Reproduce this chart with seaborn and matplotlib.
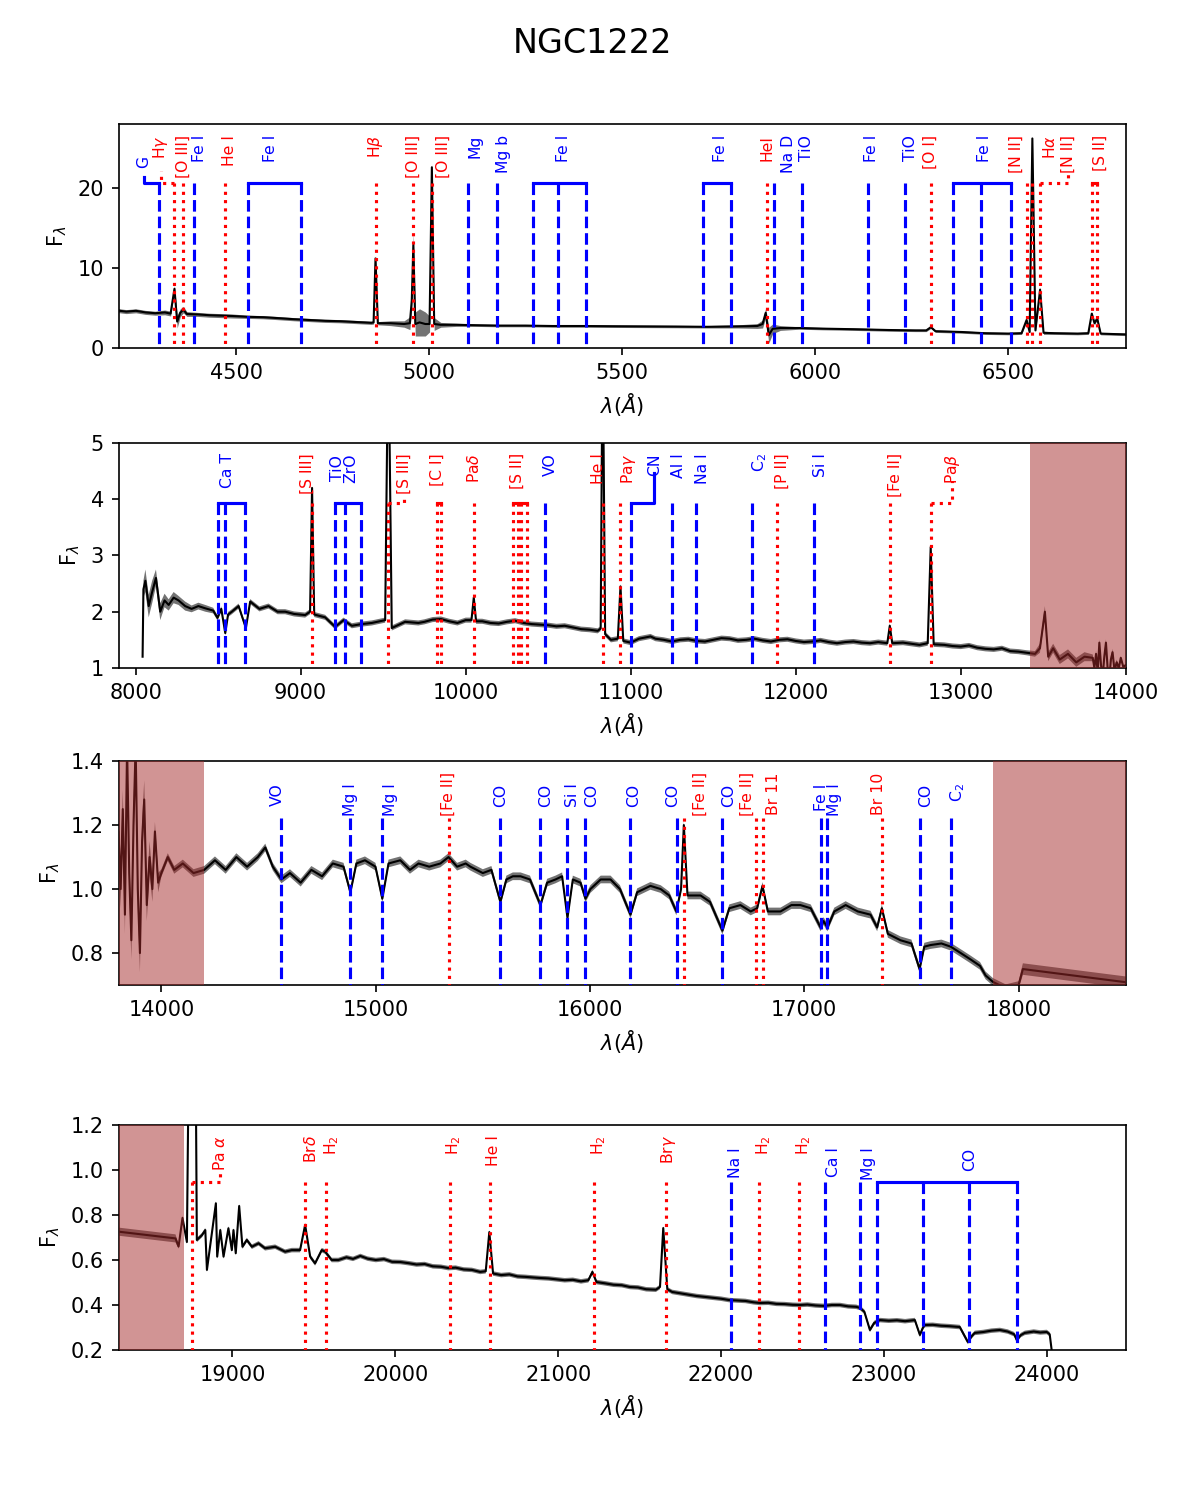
import numpy as np
import pandas as pd
import seaborn as sns
import matplotlib.pyplot as plt

# ---- optical spectrum (top panel): wavelength, flux, error ----
opt_wave = [4190, 4215, 4240, 4265, 4290, 4315, 4330, 4340, 4347, 4355, 4363, 4372,
            4400, 4430, 4460, 4490, 4530, 4570, 4604, 4650, 4690, 4730, 4770, 4810,
            4850, 4856, 4861, 4867, 4900, 4935, 4950, 4955, 4959, 4964, 4975, 4990,
            5001, 5007, 5013, 5030, 5070, 5120, 5180, 5250, 5320, 5400, 5480, 5560,
            5640, 5720, 5800, 5850, 5864, 5872, 5880, 5890, 5910, 5960, 6020, 6100,
            6190, 6260, 6288, 6300, 6312, 6380, 6440, 6500, 6535, 6548, 6556, 6563,
            6571, 6583, 6592, 6620, 6680, 6708, 6717, 6724, 6731, 6740, 6770, 6805]
opt_flux = [4.70, 4.55, 4.65, 4.45, 4.35, 4.45, 4.30, 7.40, 3.30, 4.40, 4.80, 4.25,
            4.20, 4.10, 4.05, 4.00, 3.90, 3.85, 3.75, 3.60, 3.50, 3.40, 3.35, 3.25,
            3.15, 3.20, 11.2, 3.10, 3.10, 3.00, 3.10, 6.00, 12.9, 3.00, 3.20, 3.00,
            3.00, 22.6, 3.00, 2.90, 2.90, 2.85, 2.80, 2.80, 2.75, 2.75, 2.72, 2.70,
            2.68, 2.65, 2.70, 2.75, 3.00, 4.40, 1.60, 2.40, 2.50, 2.50, 2.42, 2.35,
            2.25, 2.20, 2.20, 2.60, 2.10, 2.00, 1.85, 1.80, 1.85, 3.50, 2.00, 26.2,
            2.20, 7.30, 1.90, 1.85, 1.80, 1.85, 4.30, 3.10, 3.70, 1.80, 1.75, 1.70]
opt_err = [0.25, 0.25, 0.25, 0.25, 0.25, 0.3, 0.3, 0.4, 0.8, 0.5, 0.4, 0.3,
           0.25, 0.25, 0.25, 0.25, 0.2, 0.2, 0.2, 0.2, 0.2, 0.2, 0.2, 0.2,
           0.2, 0.2, 0.3, 0.2, 0.3, 0.4, 0.8, 1.0, 1.6, 1.5, 1.7, 1.5,
           1.0, 0.5, 0.8, 0.3, 0.2, 0.15, 0.15, 0.15, 0.15, 0.15, 0.15, 0.15,
           0.15, 0.15, 0.2, 0.3, 0.5, 0.6, 1.0, 0.6, 0.3, 0.15, 0.15, 0.15,
           0.15, 0.15, 0.15, 0.15, 0.15, 0.15, 0.15, 0.15, 0.15, 0.2, 0.2, 0.3,
           0.2, 0.3, 0.2, 0.15, 0.15, 0.15, 0.2, 0.2, 0.2, 0.15, 0.15, 0.15]

# ---- near-IR spectrum, in pieces (panels 2-4) ----
# blue edge, noisy
nirA_wave = [8042, 8047, 8059, 8079, 8100, 8123, 8149, 8175, 8200, 8230, 8260, 8300,
             8339, 8380, 8422, 8470]
nirA_flux = [1.20, 2.40, 2.55, 2.10, 2.35, 2.60, 2.00, 2.20, 2.12, 2.25, 2.20, 2.10,
             2.05, 2.10, 2.06, 2.02]
nirA_err = [0.05, 0.15, 0.20, 0.20, 0.20, 0.15, 0.15, 0.12, 0.10, 0.10, 0.08, 0.08,
            0.06, 0.06, 0.06, 0.05]

# 8500 - 13400 A
nirB_wave = [8496, 8519, 8543, 8560, 8583, 8624, 8668, 8694, 8750, 8805, 8860, 8906,
             8960, 9027, 9057, 9069, 9082, 9148, 9209, 9260, 9310, 9370, 9431, 9512,
             9531, 9552, 9633, 9713, 9750, 9800, 9850, 9900, 9950, 10000, 10035, 10049,
             10063, 10100, 10150, 10200, 10250, 10300, 10350, 10400, 10450, 10500, 10550, 10600,
             10650, 10700, 10750, 10800, 10818, 10830, 10845, 10880, 10922, 10938, 10955, 11000,
             11050, 11120, 11150, 11200, 11250, 11300, 11350, 11400, 11450, 11500, 11550, 11600,
             11650, 11700, 11750, 11800, 11850, 11900, 11950, 12000, 12050, 12100, 12150, 12200,
             12250, 12300, 12350, 12400, 12450, 12500, 12555, 12570, 12585, 12650, 12700, 12750,
             12800, 12818, 12836, 12900, 12950, 13000, 13050, 13100, 13150, 13200, 13250, 13300,
             13350, 13400]
nirB_flux = [1.89, 2.05, 1.62, 1.95, 2.00, 2.10, 1.71, 2.18, 2.05, 2.10, 2.00, 2.00,
             1.96, 1.94, 2.00, 4.20, 1.95, 1.90, 1.73, 1.85, 1.75, 1.78, 1.80, 1.85,
             7.00, 1.71, 1.82, 1.80, 1.82, 1.86, 1.87, 1.83, 1.80, 1.85, 1.85, 2.25,
             1.83, 1.83, 1.80, 1.79, 1.82, 1.84, 1.80, 1.78, 1.77, 1.76, 1.74, 1.75,
             1.72, 1.69, 1.68, 1.66, 1.70, 7.00, 1.60, 1.50, 1.52, 2.45, 1.48, 1.45,
             1.52, 1.56, 1.52, 1.50, 1.47, 1.50, 1.51, 1.48, 1.47, 1.50, 1.53, 1.52,
             1.49, 1.50, 1.52, 1.49, 1.47, 1.50, 1.51, 1.48, 1.46, 1.47, 1.49, 1.46,
             1.44, 1.46, 1.47, 1.45, 1.44, 1.46, 1.44, 1.75, 1.44, 1.45, 1.43, 1.41,
             1.44, 3.15, 1.42, 1.41, 1.39, 1.38, 1.40, 1.36, 1.34, 1.33, 1.35, 1.30,
             1.29, 1.27]
nirB_err = 0.045

# telluric edge, noisy
nirC_wave = [13450, 13480, 13510, 13530, 13560, 13600, 13650, 13700, 13750, 13800, 13810, 13820,
             13830, 13840, 13850, 13860, 13870, 13880, 13890, 13900, 13910, 13920, 13932, 13945,
             13958, 13970, 13985]
nirC_flux = [1.25, 1.35, 2.00, 1.20, 1.35, 1.15, 1.25, 1.10, 1.20, 1.18, 1.00, 1.25,
             0.92, 1.45, 1.05, 0.84, 1.20, 1.45, 1.00, 0.80, 1.15, 1.28, 0.95, 1.10,
             1.00, 1.18, 1.02]
nirC_err = [0.05, 0.08, 0.10, 0.08, 0.08, 0.08, 0.08, 0.08, 0.08, 0.06, 0.06, 0.06,
            0.06, 0.06, 0.06, 0.06, 0.06, 0.06, 0.06, 0.06, 0.06, 0.06, 0.05, 0.05,
            0.04, 0.03, 0.03]

# H band
nirD_wave = [14000, 14030, 14060, 14100, 14150, 14200, 14250, 14300, 14350, 14400, 14450, 14485,
             14520, 14560, 14600, 14650, 14700, 14750, 14800, 14850, 14882, 14910, 14950, 14999,
             15031, 15060, 15115, 15160, 15200, 15250, 15302, 15340, 15380, 15420, 15442, 15500,
             15540, 15582, 15610, 15640, 15676, 15720, 15769, 15800, 15839, 15870, 15895, 15920,
             15956, 15979, 16002, 16050, 16096, 16140, 16189, 16220, 16282, 16330, 16370, 16403,
             16425, 16438, 16455, 16516, 16560, 16618, 16650, 16702, 16750, 16780, 16805, 16830,
             16889, 16940, 16982, 17030, 17076, 17090, 17108, 17140, 17193, 17250, 17309, 17340,
             17362, 17390, 17449, 17500, 17538, 17560, 17589, 17640, 17683, 17730, 17776, 17820,
             17846, 17880, 17940, 18000]
nirD_flux = [1.05, 1.10, 1.06, 1.08, 1.05, 1.06, 1.09, 1.06, 1.10, 1.07, 1.10, 1.13,
             1.07, 1.03, 1.05, 1.02, 1.06, 1.04, 1.08, 1.07, 0.99, 1.08, 1.09, 1.07,
             0.97, 1.08, 1.09, 1.06, 1.08, 1.07, 1.08, 1.10, 1.07, 1.08, 1.07, 1.05,
             1.06, 0.96, 1.03, 1.04, 1.04, 1.03, 0.95, 1.02, 1.03, 1.04, 0.91, 1.03,
             1.02, 0.97, 1.00, 1.03, 1.03, 1.00, 0.92, 0.99, 1.01, 1.00, 0.98, 0.93,
             1.00, 1.20, 0.98, 0.98, 0.96, 0.87, 0.94, 0.95, 0.93, 0.94, 1.01, 0.93,
             0.93, 0.95, 0.95, 0.94, 0.88, 0.90, 0.88, 0.93, 0.95, 0.93, 0.92, 0.88,
             0.94, 0.86, 0.84, 0.83, 0.75, 0.82, 0.825, 0.83, 0.82, 0.80, 0.78, 0.76,
             0.73, 0.71, 0.69, 0.70]
nirD_err = 0.012

# gap between H and K (straight line in the data)
nirE_wave = [18020, 18650]
nirE_flux = [0.750, 0.696]
nirE_err = 0.018

# K band
nirF_wave = [18669, 18693, 18720, 18745, 18765, 18781, 18812, 18833, 18843, 18873, 18898, 18906,
             18925, 18945, 18975, 18996, 19006, 19020, 19041, 19061, 19088, 19119, 19160, 19200,
             19262, 19323, 19364, 19415, 19446, 19477, 19507, 19548, 19569, 19609, 19650, 19700,
             19740, 19785, 19830, 19880, 19930, 19980, 20031, 20080, 20130, 20180, 20230, 20280,
             20325, 20370, 20420, 20470, 20521, 20555, 20577, 20600, 20650, 20700, 20750, 20800,
             20850, 20890, 20940, 20990, 21040, 21090, 21140, 21185, 21210, 21235, 21290, 21340,
             21390, 21440, 21490, 21540, 21600, 21625, 21645, 21670, 21700, 21750, 21800, 21850,
             21900, 21950, 22000, 22049, 22100, 22150, 22200, 22239, 22290, 22340, 22390, 22440,
             22485, 22530, 22580, 22630, 22680, 22730, 22780, 22830, 22853, 22880, 22914, 22940,
             22975, 23030, 23080, 23130, 23190, 23221, 23240, 23252, 23300, 23350, 23400, 23466,
             23515, 23540, 23558, 23610, 23660, 23712, 23760, 23800, 23816, 23840, 23865, 23920,
             23960, 24000, 24018, 24030]
nirF_flux = [0.660, 0.787, 0.680, 2.500, 2.500, 0.689, 0.710, 0.733, 0.556, 0.719, 0.852, 0.615,
             0.733, 0.615, 0.741, 0.644, 0.733, 0.630, 0.840, 0.659, 0.689, 0.659, 0.674, 0.652,
             0.659, 0.637, 0.644, 0.644, 0.756, 0.615, 0.585, 0.644, 0.637, 0.600, 0.600, 0.612,
             0.605, 0.618, 0.606, 0.600, 0.604, 0.592, 0.591, 0.586, 0.580, 0.582, 0.572, 0.570,
             0.564, 0.566, 0.558, 0.556, 0.547, 0.550, 0.724, 0.540, 0.533, 0.536, 0.527, 0.525,
             0.522, 0.520, 0.518, 0.514, 0.510, 0.512, 0.505, 0.510, 0.547, 0.502, 0.496, 0.490,
             0.488, 0.480, 0.478, 0.470, 0.468, 0.480, 0.742, 0.470, 0.458, 0.452, 0.446, 0.440,
             0.436, 0.432, 0.428, 0.422, 0.420, 0.418, 0.412, 0.409, 0.410, 0.405, 0.404, 0.401,
             0.400, 0.402, 0.398, 0.396, 0.400, 0.400, 0.394, 0.392, 0.387, 0.370, 0.289, 0.320,
             0.333, 0.330, 0.332, 0.328, 0.333, 0.267, 0.300, 0.311, 0.312, 0.308, 0.306, 0.302,
             0.236, 0.262, 0.276, 0.280, 0.286, 0.289, 0.282, 0.270, 0.244, 0.266, 0.276, 0.282,
             0.278, 0.280, 0.270, 0.200]
nirF_err = 0.01

# telluric regions (shaded)
mask_lo = [13420, 17880]
mask_hi = [14200, 18700]

# ---- line identifications: 'a' = absorption (blue), 'e' = emission (red) ----
p1_names = ["G", r"H$\gamma$", "[O III]", "Fe I", "He I", "Fe I", r"H$\beta$", "[O III]",
            "[O III]", "Mg", "Mg b", "Fe I", "Fe I", "HeI", "Na D", "TiO", "Fe I", "TiO",
            "[O I]", "Fe I", "[N II]", r"H$\alpha$", "[N II]", "[S II]"]
p1_lines = [[4300], [4340], [4363], [4390], [4471], [4531, 4668], [4861], [4959],
            [5007], [5100], [5175], [5270, 5335, 5406], [5709, 5782], [5876], [5893],
            [5965], [6136], [6233], [6300], [6357, 6431, 6507], [6548], [6563], [6583],
            [6717, 6731]]
p1_kind = list("aeeaeaeeeaaaaeaaaaeaeeee")
p1_textx = [4260, 4305, 4363, 4405, 4482, 4590, 4861, 4959, 5037, 5119, 5192, 5348,
            5754, 5875, 5931, 5978, 6147, 6246, 6298, 6440, 6522, 6609, 6656, 6738]

p2_names = ["Ca T", "[S III]", "TiO\nZrO", "[S III]", "[C I]", r"Pa$\delta$", "[S II]",
            "VO", "He I", r"Pa$\gamma$", "CN", "Al I", "Na I", r"C$_2$", "[P II]", "Si I",
            "[Fe II]", r"Pa$\beta$"]
p2_lines = [[8498, 8542, 8662], [9069], [9209, 9271, 9368], [9531], [9824, 9850],
            [10049], [10287, 10320, 10336, 10370], [10482], [10830], [10938], [11003],
            [11251], [11397], [11736], [11887], [12110], [12570], [12818]]
p2_kind = list("aeaeeeeaeeaaaaeaee")
p2_textx = [8555, 9040, 9263, 9625, 9826, 10048, 10311, 10513, 10805, 10985, 11143,
            11290, 11437, 11784, 11920, 12151, 12603, 12949]

p3_names = ["VO", "Mg I", "Mg I", "[Fe II]", "CO", "CO", "Si I", "CO", "CO", "CO",
            "[Fe II]", "CO", "[Fe II]", "Br 11", "Fe I", "Mg I", "Br 10", "CO", r"C$_2$"]
p3_lines = [[14560], [14882], [15031], [15341], [15582], [15769], [15895], [15979],
            [16189], [16404], [16438], [16618], [16773], [16806], [17076], [17108],
            [17362], [17540], [17683]]
p3_kind = list("aaaeaaaaaaeaeeaaeaa")
p3_textx = [14540, 14882, 15069, 15341, 15582, 15792, 15917, 16010, 16203, 16384,
            16516, 16648, 16734, 16858, 17080, 17142, 17348, 17566, 17714]

p4_names = [r"Pa $\alpha$", r"Br$\delta$", r"H$_2$", r"H$_2$", "He I", r"H$_2$",
            r"Br$\gamma$", "Na I", r"H$_2$", r"H$_2$", "Ca I", "Mg I", "CO"]
p4_lines = [[18751], [19446], [19576], [20338], [20581], [21218], [21661], [22062],
            [22235], [22477], [22640], [22855], [22960, 23240, 23525, 23815]]
p4_kind = list("eeeeeeeaeeaaa")
p4_textx = [18926, 19479, 19611, 20358, 20603, 21247, 21677, 22086, 22260, 22505,
            22689, 22904, 23528]

opt = pd.DataFrame({"wave": opt_wave, "flux": opt_flux, "err": opt_err})
nir = pd.concat([
    pd.DataFrame({"wave": nirA_wave, "flux": nirA_flux, "err": nirA_err}),
    pd.DataFrame({"wave": nirB_wave, "flux": nirB_flux, "err": nirB_err}),
    pd.DataFrame({"wave": nirC_wave, "flux": nirC_flux, "err": nirC_err}),
    pd.DataFrame({"wave": nirD_wave, "flux": nirD_flux, "err": nirD_err}),
    pd.DataFrame({"wave": nirE_wave, "flux": nirE_flux, "err": nirE_err}),
    pd.DataFrame({"wave": nirF_wave, "flux": nirF_flux, "err": nirF_err}),
], ignore_index=True)


def plot_spec(ax, df, masks=False):
    ax.fill_between(df["wave"], df["flux"] - df["err"], df["flux"] + df["err"],
                    color="0.45", lw=0, zorder=1)
    sns.lineplot(data=df, x="wave", y="flux", ax=ax, color="k", lw=1,
                 estimator=None, sort=False, zorder=2)
    if masks:
        for lo, hi in zip(mask_lo, mask_hi):
            ax.axvspan(lo, hi, color="brown", alpha=0.5, lw=0, zorder=3)


def mark_lines(ax, names, lines, kinds, textx, line_top, text_top, conns, over=None):
    over = over or {}
    tr = ax.get_xaxis_transform()
    for i, (name, ws, k, tx) in enumerate(zip(names, lines, kinds, textx)):
        col = "blue" if k == "a" else "red"
        ls = "--" if k == "a" else ":"
        for w in ws:
            ax.plot([w, w], [line_top, 0], transform=tr, color=col, ls=ls, lw=1.5, zorder=4)
        if len(ws) > 1:
            ax.plot([min(ws), max(ws)], [line_top, line_top], transform=tr,
                    color=col, lw=1.5, zorder=4)
        if i in conns:
            ax.plot([ws[0], tx, tx], [line_top, line_top, conns[i]], transform=tr,
                    color=col, ls="-" if k == "a" else ":", lw=1.5, zorder=4)
        ty = over.get(i, text_top[k])
        ax.text(tx, ty, name, transform=tr, rotation=90, ha="center", va="top",
                color=col, fontsize=7.5, linespacing=0.9)


fig = plt.figure(figsize=(7.9, 10), dpi=150)
fig.suptitle("NGC1222", fontsize=16, y=0.982)

ax1 = fig.add_axes([0.1, 0.768, 0.85, 0.1493])
ax2 = fig.add_axes([0.1, 0.5547, 0.85, 0.15])
ax3 = fig.add_axes([0.1, 0.3433, 0.85, 0.1493])
ax4 = fig.add_axes([0.1, 0.1, 0.85, 0.15])

plot_spec(ax1, opt)
mark_lines(ax1, p1_names, p1_lines, p1_kind, p1_textx, 0.735,
           {"a": 0.95, "e": 0.95}, {0: 0.763, 1: 0.79, 22: 0.78}, over={0: 0.857})
ax1.set_xlim(4195, 6805)
ax1.set_ylim(0, 28)
ax1.set_yticks([0, 10, 20])

plot_spec(ax2, nir, masks=True)
mark_lines(ax2, p2_names, p2_lines, p2_kind, p2_textx, 0.735,
           {"a": 0.955, "e": 0.955}, {3: 0.75, 10: 0.865, 17: 0.83})
ax2.set_xlim(7896, 14000)
ax2.set_ylim(1, 5)

plot_spec(ax3, nir, masks=True)
mark_lines(ax3, p3_names, p3_lines, p3_kind, p3_textx, 0.745,
           {"a": 0.90, "e": 0.95}, {})
ax3.set_xlim(13800, 18500)
ax3.set_ylim(0.7, 1.4)
ax3.set_yticks([0.8, 1.0, 1.2, 1.4])

plot_spec(ax4, nir, masks=True)
mark_lines(ax4, p4_names, p4_lines, p4_kind, p4_textx, 0.745,
           {"a": 0.90, "e": 0.955}, {0: 0.80})
ax4.set_xlim(18300, 24485)
ax4.set_ylim(0.2, 1.2)

for ax in (ax1, ax2, ax3, ax4):
    ax.set_xlabel(r"$\lambda(\AA)$")
    ax.set_ylabel(r"F$_\lambda$")

fig.savefig("out.png", dpi=150)
